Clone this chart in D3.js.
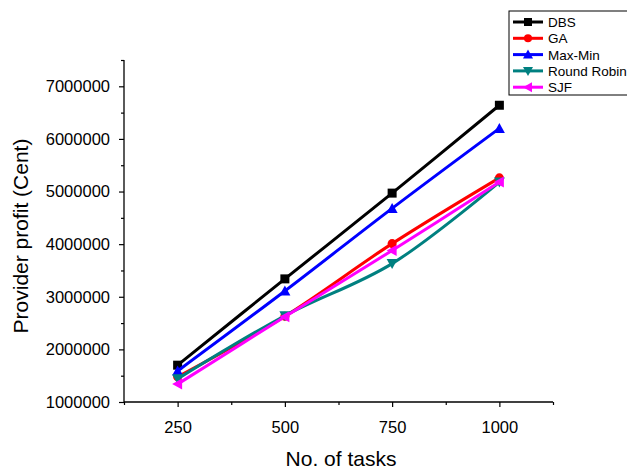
<!DOCTYPE html>
<html>
<head>
<meta charset="utf-8">
<script src="https://cdn.jsdelivr.net/npm/d3@7"></script>
<style>
  body { margin: 0; background: #fff; }
  text { font-family: "Liberation Sans", Arial, sans-serif; fill: #000; }
</style>
</head>
<body>
<div id="chart"></div>
<script>
var tasks = [250, 500, 750, 1000]
var xTicks = [250, 500, 750, 1000]
var yTicks = [1000000, 2000000, 3000000, 4000000, 5000000, 6000000, 7000000]

var dbs = [1700000, 3340000, 4970000, 6640000]
var ga = [1480000, 2630000, 4010000, 5260000]
var maxMin = [1590000, 3110000, 4680000, 6200000]
var roundRobin = [1440000, 2640000, 3630000, 5180000]
var sjf = [1340000, 2620000, 3880000, 5180000]

var seriesNames = ["DBS", "GA", "Max-Min", "Round Robin", "SJF"]
var seriesValues = [dbs, ga, maxMin, roundRobin, sjf]
var seriesColors = ["#000000", "#ff0000", "#0000ff", "#008080", "#ff00ff"]
var seriesMarkers = ["square", "circle", "up", "down", "left"]

var width = 627, height = 471

var svg = d3.select("#chart").append("svg")
  .attr("width", width)
  .attr("height", height)

var x = d3.scaleLinear().domain([125, 1125]).range([124, 553])
var y = d3.scaleLinear().domain([1000000, 7500000]).range([402, 60])

function markerPath(type, size) {
  var s = size / 2
  if (type == "square") return "M" + -s + "," + -s + "H" + s + "V" + s + "H" + -s + "Z"
  if (type == "circle") return d3.symbol(d3.symbolCircle, size * size * 0.8)()
  if (type == "up") return "M0," + (-s - 1) + "L" + (s + 1) + "," + (s) + "L" + (-s - 1) + "," + (s) + "Z"
  if (type == "down") return "M0," + (s + 1) + "L" + (s + 1) + "," + (-s) + "L" + (-s - 1) + "," + (-s) + "Z"
  if (type == "left") return "M" + (-s - 1) + ",0L" + s + "," + (-s - 1) + "L" + s + "," + (s + 1) + "Z"
}

// axes
var xAxis = svg.append("g")
  .attr("transform", "translate(0,402)")
  .call(d3.axisBottom(x).tickValues(xTicks).tickSize(5).tickPadding(14).tickFormat(d3.format("d")))
var xMinor = svg.append("g")
  .attr("transform", "translate(0,402)")
  .call(d3.axisBottom(x).tickValues([125, 375, 625, 875, 1125]).tickSize(3).tickFormat(""))
xMinor.select(".domain").remove()

var yAxis = svg.append("g")
  .attr("transform", "translate(124,0)")
  .call(d3.axisLeft(y).tickValues(yTicks).tickSize(5).tickPadding(9).tickFormat(d3.format("d")))
var yMinor = svg.append("g")
  .attr("transform", "translate(124,0)")
  .call(d3.axisLeft(y).tickValues([1500000, 2500000, 3500000, 4500000, 5500000, 6500000, 7500000]).tickSize(3).tickFormat(""))
yMinor.select(".domain").remove()

xAxis.select(".domain").attr("d", "M124,0H553")
yAxis.select(".domain").attr("d", "M0,60V402")
svg.selectAll(".domain").attr("stroke", "#000").attr("stroke-width", 1.3)
svg.selectAll(".tick line").attr("stroke", "#000").attr("stroke-width", 1.2)
svg.selectAll(".tick text")
  .style("font-size", "16.5px")
  .style("font-family", "Liberation Sans, Arial, sans-serif")
  .attr("fill", "#111")

// axis titles
svg.append("text")
  .attr("x", 341)
  .attr("y", 466)
  .attr("text-anchor", "middle")
  .style("font-size", "21px")
  .text("No. of tasks")
svg.append("text")
  .attr("transform", "translate(28,236) rotate(-90)")
  .attr("text-anchor", "middle")
  .style("font-size", "21px")
  .text("Provider profit (Cent)")

// series
var line = d3.line()
  .x(function(d) { return x(d[0]) })
  .y(function(d) { return y(d[1]) })
  .curve(d3.curveCatmullRom)

for (var s = 0; s < seriesNames.length; s++) {
  var pts = tasks.map(function(t, i) { return [t, seriesValues[s][i]] })
  svg.append("path")
    .attr("d", line(pts))
    .attr("fill", "none")
    .attr("stroke", seriesColors[s])
    .attr("stroke-width", 3)
  svg.append("g").selectAll("path")
    .data(pts)
    .enter().append("path")
      .attr("transform", function(d) { return "translate(" + x(d[0]) + "," + y(d[1]) + ")" })
      .attr("d", markerPath(seriesMarkers[s], 9))
      .attr("fill", seriesColors[s])
}

// legend
var legend = svg.append("g").attr("transform", "translate(509,11)")
legend.append("rect")
  .attr("x", 0).attr("y", 0)
  .attr("width", 130).attr("height", 84)
  .attr("fill", "#fff").attr("stroke", "#000").attr("stroke-width", 1)
for (var k = 0; k < seriesNames.length; k++) {
  var ly = 11 + k * 16.3
  legend.append("line")
    .attr("x1", 4).attr("x2", 34)
    .attr("y1", ly).attr("y2", ly)
    .attr("stroke", seriesColors[k]).attr("stroke-width", 3)
  legend.append("path")
    .attr("transform", "translate(19," + ly + ")")
    .attr("d", markerPath(seriesMarkers[k], 8))
    .attr("fill", seriesColors[k])
  legend.append("text")
    .attr("x", 39).attr("y", ly + 5)
    .style("font-size", "13.5px")
    .text(seriesNames[k])
}
</script>
</body>
</html>
